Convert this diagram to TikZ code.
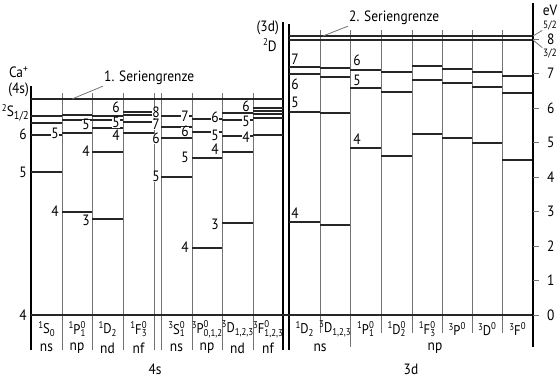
\documentclass[tikz,border=0pt]{standalone}
\usepackage{amsmath}
\usepackage{fontspec}
\setmainfont{PT Sans}[FakeStretch=0.9]
\usepackage{tikz}
\usetikzlibrary{positioning}

% term symbols: sup, letter, sup right, sub right
\newcommand{\idx}[1]{{\fontsize{5.6}{6}\selectfont #1}}
\newcommand{\tmA}[3]{\raisebox{3pt}{\idx{#1}}#2\raisebox{-1.6pt}{\idx{#3}}}
\newcommand{\tmB}[4]{\raisebox{3pt}{\idx{#1}}#2\rlap{\raisebox{3.4pt}{\idx{#3}}}\raisebox{-1.6pt}{\idx{#4}}}
\newcommand{\tmC}[3]{\raisebox{3pt}{\idx{#1}}#2\raisebox{3.4pt}{\idx{#3}}}

\tikzset{
  lvl/.style={line width=0.65pt, black!85},
  sep/.style={line width=0.45pt, black!55},
  axis/.style={line width=0.8pt, black},
  nlab/.style={fill=white, inner sep=0.3pt, text height=5.4pt, text depth=0pt, font=\fontsize{8.5}{9}\selectfont},
  txt/.style={inner sep=0.5pt, font=\fontsize{8.5}{9}\selectfont},
  trm/.style={inner sep=0pt, font=\fontsize{8}{9}\selectfont},
  small/.style={inner sep=0.3pt, font=\fontsize{6}{7}\selectfont},
}

\begin{document}
\begin{tikzpicture}[x=0.02cm, y=-0.02cm]
\useasboundingbox (0,0) rectangle (560,379);

% frames of the two blocks
\draw[axis] (31,86) -- (31,350);
\foreach \x in {62,92,123,154,161,192,222,253}
  \draw[sep] (\x,93) -- (\x,350);
\draw[axis] (283,22) -- (283,350);
\draw[axis] (289,24) -- (289,350);
\foreach \x in {320,381,412,442,472,502}
  \draw[sep] (\x,30) -- (\x,333);
\draw[sep] (350,30) -- (350,347);

% series limits and ground line
\draw[lvl] (31,99) -- (283,99);
\draw[lvl] (289,36) -- (533,36);
\draw[lvl] (289,40) -- (533,40);
\draw[lvl] (31,315) -- (533,315);

% 4s singlets
\foreach \y in {172,135,123,116} \draw[lvl] (31,\y) -- (62,\y);
\foreach \y in {212,133,120,115} \draw[lvl] (62,\y) -- (92,\y);
\foreach \y in {219,152,128,120,116} \draw[lvl] (92,\y) -- (123,\y);
\foreach \y in {133,122,115,112} \draw[lvl] (123,\y) -- (154,\y);
% 4s triplets
\foreach \y in {177,138,127,116} \draw[lvl] (161,\y) -- (192,\y);
\foreach \y in {248,158,132,119} \draw[lvl] (192,\y) -- (222,\y);
\foreach \y in {223,152,136,120,113} \draw[lvl] (222,\y) -- (253,\y);
\foreach \y in {135,118,114,111,108} \draw[lvl] (253,\y) -- (283,\y);

% 3d block
\foreach \y in {222,112,74,67} \draw[lvl] (289,\y) -- (320,\y);
\foreach \y in {225,113,77,68} \draw[lvl] (320,\y) -- (350,\y);
\foreach \y in {148,88,70} \draw[lvl] (350,\y) -- (381,\y);
\foreach \y in {156,92,72} \draw[lvl] (381,\y) -- (412,\y);
\foreach \y in {134,80,66} \draw[lvl] (412,\y) -- (442,\y);
\foreach \y in {138,83,69} \draw[lvl] (442,\y) -- (472,\y);
\foreach \y in {143,87,72} \draw[lvl] (472,\y) -- (502,\y);
\foreach \y in {160,93,76} \draw[lvl] (502,\y) -- (533,\y);

% principal quantum numbers
\foreach \n/\y in {4/315,5/172,6/134} \node[txt] (s\n) at (23,\y) {\n};
\foreach \n/\y in {4/212,5/134} \node[nlab] (p\n) at (55,\y) {\n};
\foreach \n/\y in {3/221,4/152,5/125} \node[nlab] (d\n) at (86,\y) {\n};
\foreach \n/\y in {4/136,5/123,6/108} \node[nlab] (f\n) at (116,\y) {\n};
\foreach \n/\y in {5/177,6/139,7/125,8/113} \node[nlab] (ts\n) at (156,\y) {\n};
\foreach \n/\y in {4/248,5/158,6/132,7/117} \node[nlab] (tp\n) at (185,\y) {\n};
\foreach \n/\y in {3/225,4/150,5/136,6/118} \node[nlab] (td\n) at (215,\y) {\n};
\foreach \n/\y in {4/138,5/122,6/107} \node[nlab] (tf\n) at (246,\y) {\n};
\foreach \n/\y in {4/213,5/102,6/84,7/59} \node[txt] (ds\n) at (295,\y) {\n};
\foreach \n/\y in {4/139,5/80,6/60} \node[txt] (dp\n) at (357,\y) {\n};

% ion cores
\node[txt, anchor=east] (ca) at (30,72) {Ca\textsuperscript{+}};
\node[txt, anchor=east] (core4s) at (30,90) {(4s)};
\node[txt, anchor=east] (s12) at (30,113) {\raisebox{3pt}{\idx{2}}S\raisebox{-1.6pt}{\fontsize{6.5}{7}\selectfont 1/2}};
\node[txt, anchor=east] (core3d) at (280,28) {(3d)};
\node[txt, anchor=east] (d2) at (278,45) {\raisebox{3pt}{\idx{2}}D};

% series limits labels
\node[txt, anchor=west] (sg1) at (103,78) {1. Seriengrenze};
\coordinate (lim1) at (72,99);
\draw[sep] (sg1.south west) -- (lim1);
\node[txt, anchor=west] (sg2) at (348,18) {2. Seriengrenze};
\coordinate (lim2) at (323,36);
\draw[sep] (sg2.south west) -- (lim2);

% energy axis
\draw[axis] (533,3) -- (533,347);
\foreach \k in {0,...,8} {
  \draw[sep] (533,{315-34.5*\k}) -- (539,{315-34.5*\k});
  \node[txt, anchor=west] (e\k) at (546,{315-34.5*\k}) {\k};
}
\node[txt] (ev) at (550,10) {eV};
\node[small] (j52) at (550,25) {5/2};
\node[small] (j32) at (550,53) {3/2};
\coordinate (top52) at (533,36);
\coordinate (top32) at (533,40);
\draw[sep] (top52) -- (j52.south west);
\draw[sep] (top32) -- (j32.north west);

% terms
\foreach \x/\t in {46.5/\tmA{1}{S}{0}, 77/\tmB{1}{P}{0}{1}, 107.5/\tmA{1}{D}{2}, 138.5/\tmB{1}{F}{0}{3},
  176.5/\tmB{3}{S}{0}{1}, 207/\tmB{3}{P}{0}{0,1,2}, 237.5/\tmA{3}{D}{1,2,3}, 268/\tmB{3}{F}{0}{1,2,3},
  304.5/\tmA{1}{D}{2}, 335/\tmA{3}{D}{1,2,3}, 365.5/\tmB{1}{P}{0}{1}, 396.5/\tmB{1}{D}{0}{2},
  427/\tmB{1}{F}{0}{3}, 457/\tmC{3}{P}{0}, 487/\tmC{3}{D}{0}, 517.5/\tmC{3}{F}{0}}
  \node[trm] (t\x) at (\x,329) {\t};

% series
\foreach \x/\t in {46.5/ns, 77/np, 107.5/nd, 138.5/nf, 176.5/ns, 207/np, 237.5/nd, 268/nf, 320/ns, 435/np}
  \node[txt] (r\x) at (\x,348) {\t};
\node[txt] (b4s) at (155,369) {4s};
\node[txt] (b3d) at (411,369) {3d};
\end{tikzpicture}
\end{document}
